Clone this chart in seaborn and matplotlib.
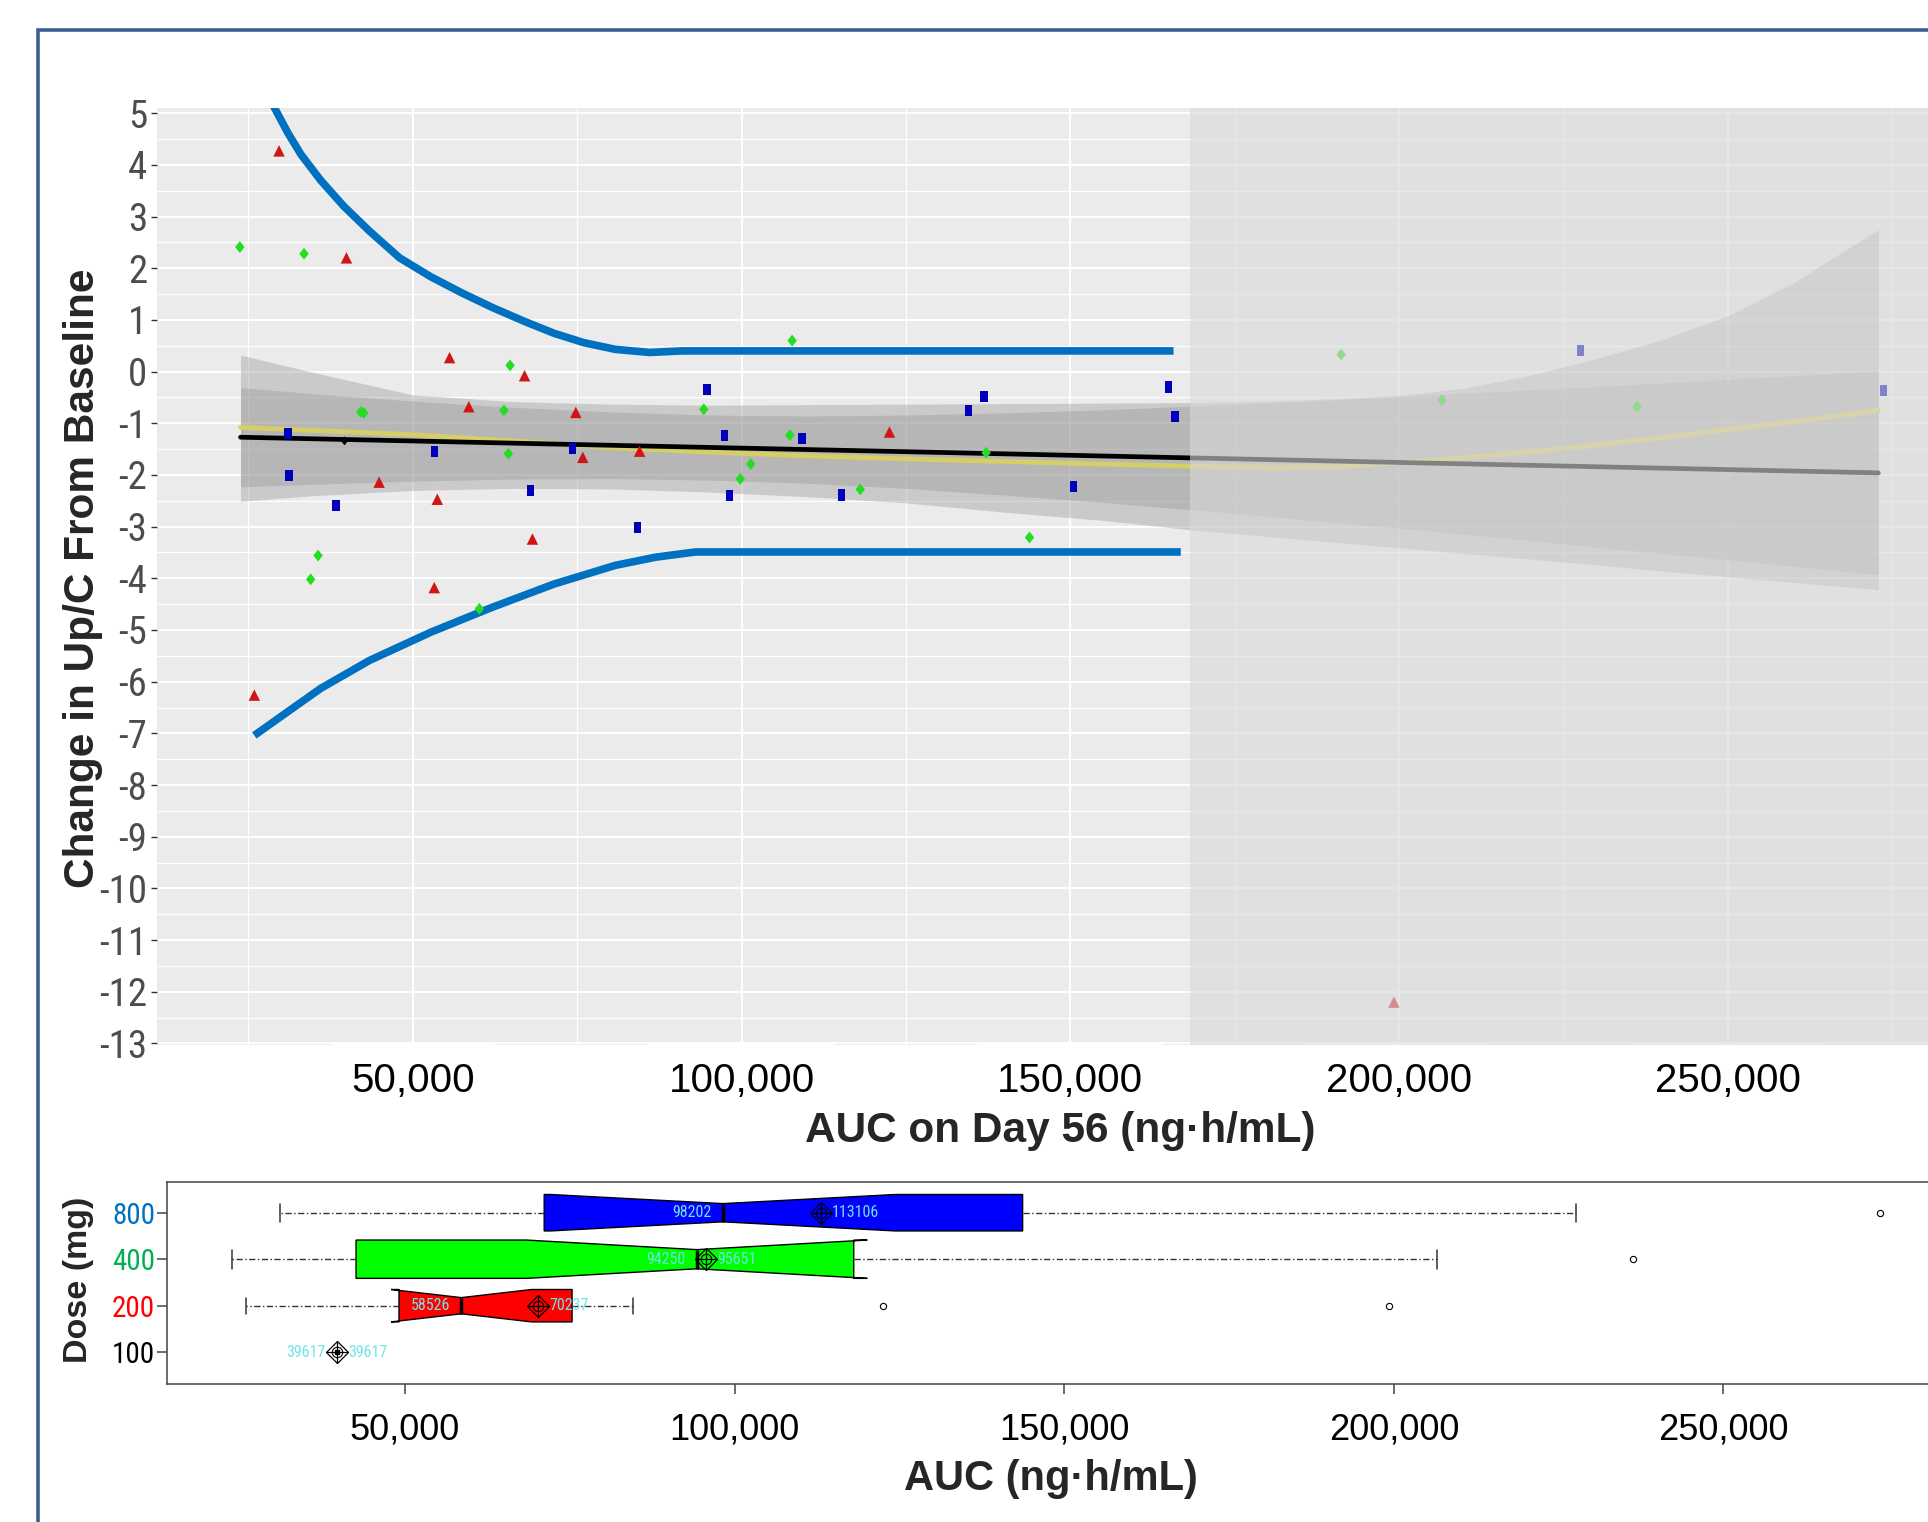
import numpy as np
import pandas as pd
import seaborn as sns
from matplotlib import pyplot as plt
from matplotlib import font_manager
from matplotlib.lines import Line2D
from matplotlib.path import Path
from matplotlib.ticker import FixedLocator, FuncFormatter, MultipleLocator


# AUC on day 56 (ng*h/mL) and change in Up/C from baseline, one pair per dose
AUC_100 = [39617]
CHG_100 = [-1.34]

AUC_200 = [25900, 29660, 39910, 44880, 53270, 53730, 55600, 58526, 67000, 68200,
           74800, 75860, 84500, 122500, 199220]
CHG_200 = [-6.26, 4.27, 2.20, -2.14, -4.18, -2.47, 0.27, -0.68, -0.08, -3.24,
           -0.79, -1.66, -1.54, -1.17, -12.20]

AUC_400 = [23700, 33460, 34470, 35600, 42090, 42560, 60130, 63860, 64530, 64800,
           94250, 99800, 101400, 107350, 107700, 118060, 137200, 143800, 191200,
           206500, 236210]
CHG_400 = [2.41, 2.28, -4.02, -3.56, -0.78, -0.80, -4.59, -0.75, -1.59, 0.12,
           -0.73, -2.08, -1.79, -1.23, 0.60, -2.28, -1.57, -3.21, 0.33, -0.55, -0.68]

AUC_800 = [31000, 31200, 38300, 53350, 67900, 74300, 84200, 94750, 97400, 98202,
           109200, 115200, 134480, 136860, 150500, 164930, 165940, 227600, 273700]
CHG_800 = [-1.20, -2.01, -2.59, -1.54, -2.30, -1.49, -3.02, -0.34, -1.23, -2.40,
           -1.30, -2.39, -0.76, -0.48, -2.22, -0.30, -0.87, 0.41, -0.36]

DOSE_ORDER = ['800', '400', '200', '100']

# smooth fits and their bands
FIT_X = [23800, 35000, 50000, 65000, 80000, 95000, 110000, 125000, 140000, 155000,
         168200, 180000, 190000, 200000, 210000, 220000, 230000, 240000, 250000,
         260000, 272900]
LIN_X = [23800, 272900]
LIN_Y = [-1.27, -1.96]
LIN_LO = [-2.23, -2.18, -2.12, -2.08, -2.07, -2.10, -2.16, -2.26, -2.39, -2.53,
          -2.67, -2.80, -2.92, -3.03, -3.15, -3.27, -3.40, -3.52, -3.64, -3.77, -3.93]
LIN_HI = [-0.31, -0.43, -0.57, -0.69, -0.78, -0.84, -0.86, -0.84, -0.80, -0.74,
          -0.67, -0.61, -0.55, -0.48, -0.42, -0.35, -0.29, -0.22, -0.15, -0.08, 0.01]
LOESS_Y = [-1.08, -1.14, -1.22, -1.34, -1.47, -1.56, -1.63, -1.69, -1.74, -1.79,
           -1.83, -1.86, -1.85, -1.76, -1.67, -1.55, -1.42, -1.28, -1.12, -0.97, -0.75]
LOESS_LO = [-2.51, -2.40, -2.30, -2.26, -2.27, -2.33, -2.42, -2.54, -2.72, -2.88,
            -3.06, -3.19, -3.30, -3.41, -3.52, -3.63, -3.74, -3.86, -3.97, -4.08, -4.22]
LOESS_HI = [0.32, -0.02, -0.45, -0.58, -0.63, -0.65, -0.64, -0.63, -0.62, -0.61,
            -0.60, -0.57, -0.53, -0.46, -0.32, -0.07, 0.25, 0.62, 1.08, 1.72, 2.75]

# hand drawn blue envelope
UPPER_X = [28300, 28900, 31000, 33000, 36000, 39500, 43400, 48000, 52800, 57500,
           62100, 67000, 71500, 76000, 80800, 86000, 91000, 165700]
UPPER_Y = [5.35, 5.12, 4.62, 4.20, 3.70, 3.20, 2.72, 2.20, 1.83, 1.52,
           1.24, 0.97, 0.74, 0.56, 0.43, 0.37, 0.40, 0.40]
LOWER_X = [25900, 31000, 36000, 43400, 52800, 62100, 71500, 80800, 87000, 93000, 166800]
LOWER_Y = [-7.04, -6.58, -6.13, -5.59, -5.04, -4.56, -4.11, -3.75, -3.59, -3.49, -3.49]

AUC_TICKS = [50000, 100000, 150000, 200000, 250000]


def build_frame():
    groups = [('100', AUC_100, CHG_100), ('200', AUC_200, CHG_200),
              ('400', AUC_400, CHG_400), ('800', AUC_800, CHG_800)]
    frames = [pd.DataFrame({'auc': a, 'chg': c, 'dose': d}) for d, a, c in groups]
    return pd.concat(frames, ignore_index=True)


def pick_narrow():
    # a condensed sans for the tall, narrow labels; None if nothing suitable exists
    entries = [f for f in font_manager.fontManager.ttflist if 'CJK' not in f.name]
    names = {f.name for f in entries}
    for p in ['Liberation Sans Narrow', 'Arial Narrow', 'Roboto Condensed',
              'Noto Sans Condensed', 'Open Sans Condensed', 'DejaVu Sans Condensed']:
        if p in names:
            return {'family': p}
    for f in entries:
        if ('Narrow' in f.name or 'Condensed' in f.name) and f.style == 'normal':
            return {'family': f.name}
    for f in entries:
        if f.stretch in ('condensed', 'semi-condensed') and f.style == 'normal':
            return {'family': f.name, 'stretch': f.stretch}
    return None


df = build_frame()

sns.set_style('darkgrid', {'axes.facecolor': '#EBEBEB', 'grid.color': 'white'})
plt.rcParams['font.family'] = ['Liberation Sans', 'DejaVu Sans']
plt.rcParams['axes.unicode_minus'] = False

narrow = pick_narrow()
if narrow is None:
    narrow = {'family': 'Liberation Sans'}
    sz_ytop, sz_ybot, sz_val = 25, 17, 10
else:
    sz_ytop, sz_ybot, sz_val = 28, 21, 11.5

comma = FuncFormatter(lambda v, p: f'{v:,.0f}')

fig = plt.figure(figsize=(19.28, 15.22), dpi=100)

# ---------------- top panel: change vs AUC
ax = fig.add_axes([157 / 1928, 1 - 1045 / 1522, 1843 / 1928, 937 / 1522])

ax.fill_between(FIT_X, LOESS_LO, LOESS_HI, color='#999999', alpha=0.4, lw=0, zorder=1)
ax.fill_between(FIT_X, LIN_LO, LIN_HI, color='#999999', alpha=0.4, lw=0, zorder=1)
sns.lineplot(x=FIT_X, y=LOESS_Y, ax=ax, color='#D6CF66', linewidth=3.4, zorder=2)
sns.lineplot(x=LIN_X, y=LIN_Y, ax=ax, color='black', linewidth=3.4, zorder=2.5)
sns.lineplot(x=UPPER_X, y=UPPER_Y, ax=ax, color='#0070C0', linewidth=5.5,
             sort=False, solid_capstyle='butt', zorder=3)
sns.lineplot(x=LOWER_X, y=LOWER_Y, ax=ax, color='#0070C0', linewidth=5.5,
             sort=False, solid_capstyle='butt', zorder=3)

tall_diamond = Path([(0, 1), (0.8, 0), (0, -1), (-0.8, 0), (0, 1)], closed=True)
tall_square = Path([(-0.65, -1), (0.65, -1), (0.65, 1), (-0.65, 1), (-0.65, -1)], closed=True)
point_style = {
    '200': dict(marker='^', s=68, color='#D01515'),
    '400': dict(marker=tall_diamond, s=72, color='#22DD22'),
    '800': dict(marker=tall_square, s=66, color='#0000BB'),
    '100': dict(marker=tall_diamond, s=42, color='black'),
}
for dose in ['200', '400', '800', '100']:
    sns.scatterplot(data=df[df['dose'] == dose], x='auc', y='chg', ax=ax,
                    linewidth=0, edgecolor='none', zorder=4, **point_style[dose])

# faded region beyond the observed range
ax.axvspan(168200, 300000, facecolor='#D9D9D9', alpha=0.6, lw=0, zorder=10)

ax.set_xlim(11100, 291400)
ax.set_ylim(-13.03, 5.10)
ax.set_xlabel('')
ax.set_ylabel('')
ax.xaxis.set_major_locator(FixedLocator(AUC_TICKS))
ax.xaxis.set_minor_locator(FixedLocator([25000, 75000, 125000, 175000, 225000, 275000]))
ax.xaxis.set_major_formatter(comma)
ax.yaxis.set_major_locator(MultipleLocator(1))
ax.yaxis.set_minor_locator(MultipleLocator(0.5))
ax.grid(which='major', color='white', linewidth=1.4)
ax.grid(which='minor', color='white', linewidth=0.9)
ax.tick_params(axis='x', which='both', bottom=False, length=0, pad=12,
               labelsize=29, labelcolor='black')
ax.tick_params(axis='y', which='major', left=True, length=4, width=1, color='#333333',
               pad=3, labelsize=sz_ytop, labelcolor='#4D4D4D')
ax.tick_params(axis='y', which='minor', left=False, length=0)
for s in ax.spines.values():
    s.set_visible(False)
for lbl in ax.get_yticklabels():
    lbl.set(**narrow)
for lbl in ax.get_xticklabels():
    lbl.set_bbox(dict(boxstyle='square,pad=0.5', facecolor='white', edgecolor='none'))

# ---------------- bottom panel: AUC by dose
bx = fig.add_axes([167 / 1928, 1 - 1384 / 1522, 1833 / 1928, 202.3 / 1522])
bx.set_facecolor('white')

box_colors = {'800': '#0000FF', '400': '#00FF00', '200': '#FF0000'}
n_max = df['dose'].value_counts().max()
for dose, color in box_colors.items():
    sub = df[df['dose'] == dose]
    sns.boxplot(data=sub, x='auc', y='dose', order=DOSE_ORDER, ax=bx,
                color=color, saturation=1, width=0.824 * np.sqrt(len(sub) / n_max),
                notch=True, linecolor='black', linewidth=1,
                whiskerprops=dict(color='#333333', linewidth=1,
                                  linestyle=(0, (4.5, 1.8, 1, 1.8))),
                capprops=dict(color='#333333', linewidth=1.1),
                medianprops=dict(color='black', linewidth=2.5),
                flierprops=dict(marker='o', markersize=4.5, markerfacecolor='none',
                                markeredgecolor='black', markeredgewidth=0.8))

label_color = '#6EE6E6'
for i, dose in enumerate(DOSE_ORDER):
    vals = df.loc[df['dose'] == dose, 'auc']
    med, mean = vals.median(), vals.mean()
    if len(vals) == 1:
        bx.plot(med, i, marker='s', ms=2.5, color='black', zorder=6)
    bx.plot(mean, i, marker='D', ms=11, mfc='none', mec='black', mew=0.9, zorder=6)
    bx.plot(mean, i, marker='o', ms=7.5, mfc='none', mec='black', mew=0.8, zorder=6)
    bx.plot(mean, i, marker='+', ms=15.5, mec='black', mew=0.9, zorder=6)
    bx.annotate(f'{med:.0f}', (med, i), xytext=(-8, 0), textcoords='offset points',
                ha='right', va='center', fontsize=sz_val, color=label_color,
                zorder=7, **narrow)
    bx.annotate(f'{mean:.0f}', (mean, i), xytext=(8, 0), textcoords='offset points',
                ha='left', va='center', fontsize=sz_val, color=label_color,
                zorder=7, **narrow)

bx.set_xlim(13880, 291950)
bx.set_ylim(3.684, -0.667)
bx.set_xlabel('')
bx.set_ylabel('')
bx.grid(False)
bx.set_yticks(range(len(DOSE_ORDER)))
bx.set_yticklabels(DOSE_ORDER)
bx.xaxis.set_major_locator(FixedLocator(AUC_TICKS))
bx.xaxis.set_major_formatter(comma)
for side in ['top', 'left', 'bottom']:
    bx.spines[side].set_visible(True)
    bx.spines[side].set_color('#444444')
    bx.spines[side].set_linewidth(1.1)
bx.spines['right'].set_visible(False)
bx.tick_params(axis='y', left=True, length=7, width=1.1, color='#444444', pad=1.5,
               labelsize=sz_ybot)
bx.tick_params(axis='x', bottom=True, length=7, width=1.1, color='#444444', pad=13.5,
               labelsize=26, labelcolor='black')
tick_colors = ['#0070C0', '#00B050', '#FF0000', 'black']
for lbl, c in zip(bx.get_yticklabels(), tick_colors):
    lbl.set_color(c)
    lbl.set(**narrow)

# ---------------- titles and frame
fig.text(83 / 1928, 1 - 578 / 1522, 'Change in Up/C From Baseline', rotation=90,
         ha='center', va='center', fontsize=30.5, fontweight='bold')
fig.text(1060 / 1928, 1 - 1131 / 1522, 'AUC on Day 56 (ng\u00b7h/mL)',
         ha='center', va='center', fontsize=30.5, fontweight='bold')
fig.text(78 / 1928, 1 - 1280 / 1522, 'Dose (mg)', rotation=90,
         ha='center', va='center', fontsize=24.5, fontweight='bold')
fig.text(1051 / 1928, 1 - 1479 / 1522, 'AUC (ng\u00b7h/mL)',
         ha='center', va='center', fontsize=30, fontweight='bold')

fig.add_artist(Line2D([37.5 / 1928, 37.5 / 1928, 1.0], [0.0, 1 - 29.5 / 1522, 1 - 29.5 / 1522],
                      transform=fig.transFigure, color='#3A5F94', linewidth=2.6,
                      solid_joinstyle='miter'))

fig.savefig('out.png', dpi=100)
